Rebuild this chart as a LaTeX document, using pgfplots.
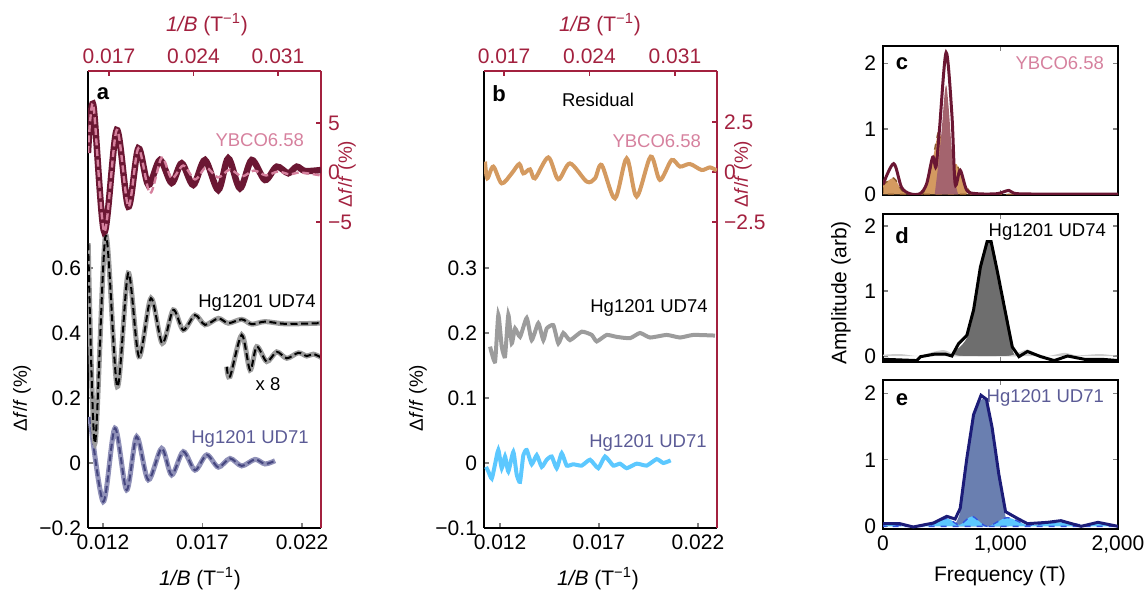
\documentclass[border=0pt]{standalone}
\usepackage{fontspec}
\setmainfont{Liberation Sans}
\usepackage{pgfplots}
\pgfplotsset{compat=1.18}
\definecolor{ybred}{HTML}{A3213F}
\definecolor{ybdark}{HTML}{6B1733}
\definecolor{ybpink}{HTML}{D6819E}
\definecolor{udgray}{HTML}{9C9C9C}
\definecolor{udpurp}{HTML}{9091B8}
\definecolor{uddash}{HTML}{45467F}
\definecolor{udlab}{HTML}{5B5B96}
\definecolor{tanc}{HTML}{D49A60}
\definecolor{lblue}{HTML}{5CC8FF}
\definecolor{brownd}{HTML}{8B5A2B}
\definecolor{mauve}{HTML}{A4646E}
\definecolor{dgray}{HTML}{6E6E6E}
\definecolor{lgray}{HTML}{CCCCCC}
\definecolor{steel}{HTML}{6A7FB0}
\definecolor{navy}{HTML}{1C1C78}
\definecolor{bdash}{HTML}{3355DD}
\pgfplotsset{
  base/.style={scale only axis, anchor=south west,
    tick align=inside, major tick length=2.5pt, scaled ticks=false,
    tick label style={font=\fontsize{10.5}{12}\selectfont},
    axis line style={line width=0.7pt}, tick style={line width=0.6pt}},
  big/.style={base, width=116.5pt, height=228.5pt},
  red/.style={axis x line*=top, axis y line*=right,
    axis line style={draw=ybred, line width=0.7pt}, tick style={draw=ybred, line width=0.6pt},
    tick label style={text=ybred}},
  small/.style={base, width=117.5pt, xmin=0, xmax=2000, xtick={0,1000,2000},
    ytick={0,1,2}, yticklabels={0,1,2}, axis line style={line width=0.9pt}},
}
\begin{document}
\begin{tikzpicture}[font=\fontsize{10.5}{12}\selectfont]
\useasboundingbox (0,0) rectangle (573pt,296.5pt);
% ---------------- panel a, bottom/left axis
\begin{axis}[big, at={(44pt,32.5pt)},
  xmin=0.01125, xmax=0.02295, ymin=-0.2, ymax=1.206,
  axis x line*=bottom, axis y line*=left,
  xtick={0.012,0.017,0.022}, xticklabels={0.012,0.017,0.022},
  ytick={-0.2,0,0.2,0.4,0.6}, yticklabels={−0.2,0,0.2,0.4,0.6}]
\addplot[udpurp, line width=2.5pt, smooth] coordinates {
(0.011347,0.142) (0.012015,-0.119) (0.012603,0.107) (0.013191,-0.083) (0.013693,0.081)
(0.014276,-0.052) (0.014949,0.045) (0.015452,-0.037) (0.016035,0.035) (0.016623,-0.022)
(0.017211,0.025) (0.017794,-0.013) (0.018382,0.014) (0.018970,-0.009) (0.019638,0.011)
(0.020141,-0.003) (0.020643,0.007)};
\addplot[uddash, line width=1pt, smooth, dash pattern=on 3.5pt off 1.8pt] coordinates {
(0.011347,0.142) (0.012015,-0.119) (0.012603,0.107) (0.013191,-0.083) (0.013693,0.081)
(0.014276,-0.052) (0.014949,0.045) (0.015452,-0.037) (0.016035,0.035) (0.016623,-0.022)
(0.017211,0.025) (0.017794,-0.013) (0.018382,0.014) (0.018970,-0.009) (0.019638,0.011)
(0.020141,-0.003) (0.020643,0.007)};
\addplot[udgray, line width=2.5pt, smooth] coordinates {
(0.011261,0.676) (0.011598,0.061) (0.012136,0.700) (0.012719,0.235) (0.013271,0.584)
(0.013809,0.327) (0.014412,0.507) (0.014980,0.368) (0.015533,0.471) (0.016035,0.409)
(0.016623,0.455) (0.017126,0.425) (0.017794,0.445) (0.018296,0.430) (0.018970,0.442)
(0.019472,0.427) (0.020141,0.435) (0.021146,0.428) (0.022819,0.430) (0.02295,0.430)};
\addplot[black, line width=1pt, smooth, dash pattern=on 3.5pt off 1.8pt] coordinates {
(0.011261,0.676) (0.011598,0.061) (0.012136,0.700) (0.012719,0.235) (0.013271,0.584)
(0.013809,0.327) (0.014412,0.507) (0.014980,0.368) (0.015533,0.471) (0.016035,0.409)
(0.016623,0.455) (0.017126,0.425) (0.017794,0.445) (0.018296,0.430) (0.018970,0.442)
(0.019472,0.427) (0.020141,0.435) (0.021146,0.428) (0.022819,0.430) (0.02295,0.430)};
\addplot[udgray, line width=2.5pt, smooth] coordinates {
(0.018216,0.296) (0.018382,0.266) (0.018970,0.394) (0.019387,0.286) (0.019723,0.358)
(0.020226,0.312) (0.020728,0.342) (0.021231,0.322) (0.021814,0.339) (0.022236,0.329)
(0.022567,0.335) (0.02295,0.325)};
\addplot[black, line width=1pt, smooth, dash pattern=on 3.5pt off 1.8pt] coordinates {
(0.018216,0.296) (0.018382,0.266) (0.018970,0.394) (0.019387,0.286) (0.019723,0.358)
(0.020226,0.312) (0.020728,0.342) (0.021231,0.322) (0.021814,0.339) (0.022236,0.329)
(0.022567,0.335) (0.02295,0.325)};
\end{axis}
% ---------------- panel a, top/right axis
\begin{axis}[big, red, at={(44pt,32.5pt)},
  xmin=0.01526, xmax=0.03456, ymin=-35.9, ymax=10.25,
  xtick={0.017,0.024,0.031}, xticklabels={0.017,0.024,0.031},
  ytick={-5,0,5}, yticklabels={−5,0,5}]
\addplot[ybdark, line width=3.2pt, smooth] coordinates {
(0.01526,1.97) (0.01570,6.82) (0.01661,-6.0) (0.01764,4.29) (0.01860,-3.45)
(0.01943,2.44) (0.02026,-1.26) (0.02122,1.26) (0.02219,-1.06) (0.02302,0.93)
(0.02398,-1.26) (0.02495,1.26) (0.02605,-1.77) (0.02688,1.43) (0.02785,-1.60)
(0.02882,1.26) (0.02992,-0.76) (0.03089,0.59) (0.03185,-0.08) (0.03255,0.59)
(0.03324,0.15) (0.03456,0.25)};
\addplot[ybpink, line width=1.2pt, smooth, dash pattern=on 3.5pt off 1.8pt] coordinates {
(0.01526,1.97) (0.01570,6.82) (0.01661,-6.0) (0.01764,4.29) (0.01860,-3.45)
(0.01943,2.44) (0.020396,-2.1) (0.021365,1.5) (0.022194,-0.6) (0.023155,0.7)
(0.024124,-0.7) (0.025035,0.5) (0.026029,-0.5) (0.027023,0.3) (0.028017,-0.4)
(0.029011,0.2) (0.030006,-0.3) (0.031,0.1) (0.031994,-0.2) (0.032822,0.0) (0.03456,-0.3)};
\end{axis}
% ---------------- panel b, bottom/left axis
\begin{axis}[big, at={(242pt,32.5pt)},
  xmin=0.01119, xmax=0.02296, ymin=-0.1, ymax=0.603,
  axis x line*=bottom, axis y line*=left,
  xtick={0.012,0.017,0.022}, xticklabels={0.012,0.017,0.022},
  ytick={-0.1,0,0.1,0.2,0.3}, yticklabels={−0.1,0,0.1,0.2,0.3}]
\addplot[udgray, line width=2pt, smooth, tension=0.3] coordinates {
(0.011495,0.179) (0.011748,0.156) (0.011914,0.228) (0.012086,0.179) (0.012253,0.164)
(0.012419,0.228) (0.012591,0.184) (0.012758,0.207) (0.01301,0.194) (0.013348,0.223)
(0.013601,0.189) (0.013934,0.215) (0.014187,0.189) (0.014358,0.207) (0.014692,0.212)
(0.014944,0.184) (0.015197,0.200) (0.015535,0.189) (0.016126,0.202) (0.016631,0.197)
(0.016883,0.187) (0.017388,0.197) (0.017893,0.194) (0.018565,0.192) (0.01907,0.200)
(0.019575,0.193) (0.020418,0.197) (0.02109,0.193) (0.021762,0.197) (0.022858,0.196)};
\addplot[lblue, line width=2pt, smooth, tension=0.3] coordinates {
(0.011293,-0.006) (0.011409,-0.013) (0.011581,-0.024) (0.011748,-0.002) (0.011914,0.020)
(0.012086,-0.008) (0.012253,0.010) (0.012419,-0.013) (0.012672,0.017) (0.012843,-0.018)
(0.01301,-0.029) (0.013177,0.012) (0.013348,0.020) (0.013601,-0.002) (0.013853,0.012)
(0.014106,-0.006) (0.014358,0.005) (0.014611,0.010) (0.014863,-0.008) (0.015116,0.015)
(0.015368,-0.004) (0.015702,-0.002) (0.016126,-0.004) (0.016545,0.005) (0.016964,-0.008)
(0.017303,0.010) (0.017722,-0.004) (0.01806,-0.001) (0.018398,-0.008) (0.018903,-0.001)
(0.019408,-0.004) (0.019913,0.006) (0.020247,0.000) (0.02062,0.004)};
\end{axis}
% ---------------- panel b, top/right axis
\begin{axis}[big, red, at={(242pt,32.5pt)},
  xmin=0.01536, xmax=0.03444, ymin=-17.8, ymax=5.05,
  xtick={0.017,0.024,0.031}, xticklabels={0.017,0.024,0.031},
  ytick={-2.5,0,2.5}, yticklabels={−2.5,0,2.5}]
\addplot[tanc, line width=2pt, smooth, tension=0.5] coordinates {
(0.015442,0.52) (0.015630,-0.32) (0.016121,0.27) (0.016809,-0.57) (0.017628,-0.07)
(0.018250,0.40) (0.018577,-0.07) (0.019126,0.13) (0.019535,-0.32) (0.020624,0.73)
(0.021443,-0.37) (0.022401,0.43) (0.023768,-0.48) (0.024448,-0.32) (0.024996,0.35)
(0.026085,-1.32) (0.027043,0.68) (0.027862,-1.23) (0.029008,0.77) (0.029769,-0.40)
(0.030727,0.60) (0.031407,0.27) (0.032225,0.40) (0.033183,0.10) (0.033862,0.23) (0.034411,0.07)};
\end{axis}
% ---------------- panel c
\begin{axis}[small, at={(441.5pt,199pt)}, height=74.5pt, ymin=-0.01, ymax=2.27,
  xticklabels={,,}]
\addplot[fill=tanc, draw=brownd, dashed, line width=0.7pt, smooth] coordinates {
(0,0.14) (90,0.25) (160,0.06) (230,0) (330,0) (380,0.2) (430,0.6) (471,0.95) (500,0.85)
(542,0.75) (585,0.49) (627,0.46) (684,0.21) (740,0.04) (800,0) (2000,0)} \closedcycle;
\addplot[fill=mauve, draw=none, smooth] coordinates {
(440,0) (470,0.45) (500,1.0) (525,1.55) (540,1.66) (560,1.3) (580,0.8) (600,0.4) (625,0.1) (640,0)} \closedcycle;
\addplot[ybdark, line width=1.5pt, smooth] coordinates {
(0,0.15) (91,0.47) (157,0.11) (229,0.01) (314,0.01) (371,0.16) (423,0.57) (451,0.42)
(480,0.98) (537,2.17) (586,1.23) (614,0.16) (657,0.37) (714,0.06) (800,0.01) (971,0.01)
(1071,0.06) (1143,0.01) (1500,0.005) (2000,0.005)};
\end{axis}
% ---------------- panel d
\begin{axis}[small, at={(441.5pt,115.5pt)}, height=74pt, ymin=-0.092, ymax=2.185,
  xticklabels={,,}]
\addplot[fill=dgray, draw=none, smooth] coordinates {
(560,0) (643,0.12) (714,0.28) (771,0.66) (829,1.3) (886,1.7) (920,1.7) (971,1.25)
(1043,0.6) (1100,0.1) (1130,0)} \closedcycle;
\addplot[fill=lgray, draw=none, smooth] coordinates {
(0,0.02) (150,0.03) (300,0) (420,0.06) (520,0.09) (600,0.03) (680,0) (1050,0)
(1150,0.05) (1230,0.1) (1300,0.04) (1400,0) (1550,0.05) (1650,0.01) (1850,0.03) (2000,0)} \closedcycle;
\addplot[black, line width=1.5pt] coordinates {
(0,-0.05) (286,-0.07) (320,-0.01) (443,0.03) (529,0.03) (586,0.0) (643,0.19) (714,0.32)
(771,0.71) (829,1.37) (886,1.76) (920,1.76) (971,1.32) (1043,0.66) (1100,0.14)
(1157,-0.01) (1229,0.07) (1343,-0.01) (1457,-0.07) (1571,0.0) (1714,-0.05) (1857,-0.05) (2000,-0.07)};
\end{axis}
% ---------------- panel e
\begin{axis}[small, at={(441.5pt,32pt)}, height=74.5pt, ymin=-0.04, ymax=2.2,
  xticklabels={0,{1,000},{2,000}}]
\addplot[fill=steel, draw=none, smooth] coordinates {
(600,0) (657,0.22) (714,0.98) (771,1.62) (834,1.9) (880,1.85) (929,1.42) (986,0.72)
(1043,0.15) (1070,0)} \closedcycle;
\addplot[fill=lblue, draw=bdash, dashed, line width=0.7pt, smooth] coordinates {
(0,0.03) (100,0.03) (200,0) (400,0.02) (543,0.12) (650,0.02) (757,0.15) (886,0)
(1057,0.13) (1230,0.02) (1400,0.05) (1550,0.06) (1700,0.02) (1850,0.05) (2000,0)} \closedcycle;
\addplot[navy, line width=1.5pt] coordinates {
(0,0.04) (143,0.04) (257,-0.01) (429,0.05) (543,0.15) (614,0.11) (657,0.27) (714,1.03)
(771,1.68) (834,1.97) (880,1.91) (929,1.48) (986,0.78) (1043,0.22) (1143,0.12)
(1229,0.04) (1400,0.06) (1514,0.085) (1686,0.0) (1829,0.06) (2000,0.0)};
\end{axis}
% ---------------- text
\begin{scope}[x=0.5pt, y=-0.5pt, shift={(0pt,296.5pt)}]
\node[text=ybred] at (207,25) {\textit{1/B} (T\textsuperscript{−1})};
\node[text=ybred] at (600,25) {\textit{1/B} (T\textsuperscript{−1})};
\node at (200,579) {\textit{1/B} (T\textsuperscript{−1})};
\node at (598,579) {\textit{1/B} (T\textsuperscript{−1})};
\begin{scope}[font=\fontsize{9.5}{11}\selectfont]
\node[rotate=90] at (22,398) {Δ\textit{f}/\textit{f} (\%)};
\node[rotate=90] at (418,398) {Δ\textit{f}/\textit{f} (\%)};
\node[rotate=90, text=ybred] at (347,174) {Δ\textit{f}/\textit{f} (\%)};
\node[rotate=90, text=ybred] at (743,174) {Δ\textit{f}/\textit{f} (\%)};
\end{scope}
\node[font=\fontsize{11}{13}\selectfont\bfseries] at (103,94) {a};
\node[font=\fontsize{11}{13}\selectfont\bfseries] at (499,94) {b};
\node[font=\fontsize{11}{13}\selectfont\bfseries] at (902,64) {c};
\node[font=\fontsize{11}{13}\selectfont\bfseries] at (902,236) {d};
\node[font=\fontsize{11}{13}\selectfont\bfseries] at (902,400) {e};
\begin{scope}[font=\fontsize{9.25}{11}\selectfont]
\node at (598,100) {Residual};
\node[anchor=east, text=ybpink] at (311,140) {YBCO6.58};
\node[anchor=east, text=ybpink] at (708,141) {YBCO6.58};
\node at (257,303) {Hg1201 UD74};
\node at (649,308) {Hg1201 UD74};
\node at (268,384) {x 8};
\node[text=udlab] at (250,439) {Hg1201 UD71};
\node[text=udlab] at (648,443) {Hg1201 UD71};
\node[anchor=east, text=ybpink] at (1111,63) {YBCO6.58};
\node[anchor=east] at (1113,232) {Hg1201 UD74};
\node[anchor=east, text=udlab] at (1111,398) {Hg1201 UD71};
\end{scope}
\node[rotate=90] at (841,293) {Amplitude (arb)};
\node at (1000,576) {Frequency (T)};
\end{scope}
\end{tikzpicture}
\end{document}
